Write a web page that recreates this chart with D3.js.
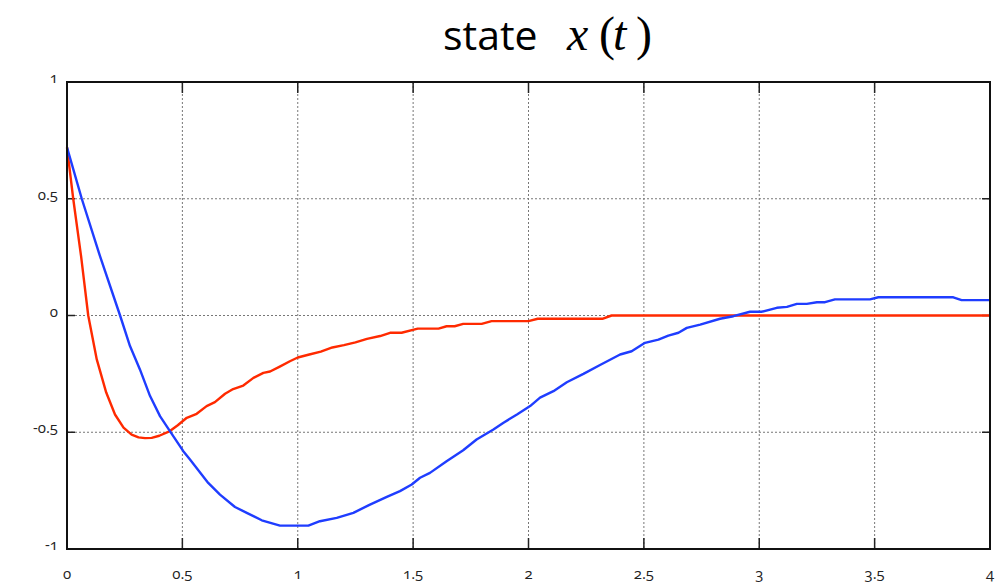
<!DOCTYPE html>
<html>
<head>
<meta charset="utf-8">
<script src="https://cdn.jsdelivr.net/npm/d3@7"></script>
<style>
  html, body { margin: 0; padding: 0; background: #fff; }
  svg { display: block; }
  .tick-label { font-family: "Open Sans", "Noto Sans", sans-serif; font-size: 15px; fill: #222;
                font-variant-numeric: oldstyle-nums; font-feature-settings: "onum"; }
  .title-sans { font-family: "Open Sans", "Noto Sans", sans-serif; font-size: 41px; }
  .title-math { font-family: "Liberation Serif", "DejaVu Serif", serif; font-size: 48px; }
</style>
</head>
<body>
<svg id="chart" width="1006" height="585"></svg>
<script>
// Time samples and state trajectories
const redT = [0, 0.027, 0.061, 0.092, 0.129, 0.17, 0.208, 0.245, 0.28, 0.31, 0.338, 0.367, 0.40, 0.446, 0.48, 0.519, 0.562, 0.605, 0.641, 0.685, 0.72, 0.764, 0.808, 0.851, 0.88, 0.92, 0.966, 1.0, 1.05, 1.1, 1.15, 1.2, 1.25, 1.3, 1.357, 1.40, 1.45, 1.52, 1.61, 1.645, 1.68, 1.717, 1.797, 1.84, 2.0, 2.04, 2.32, 2.36, 4.0];
const redX = [0.72, 0.5, 0.254, 0.0, -0.188, -0.33, -0.424, -0.48, -0.51, -0.522, -0.525, -0.524, -0.515, -0.495, -0.47, -0.438, -0.421, -0.388, -0.371, -0.335, -0.315, -0.30, -0.267, -0.246, -0.24, -0.22, -0.196, -0.18, -0.167, -0.155, -0.137, -0.127, -0.115, -0.1, -0.088, -0.074, -0.074, -0.056, -0.056, -0.046, -0.046, -0.036, -0.036, -0.024, -0.024, -0.014, -0.014, 0.0, 0.0];

const blueT = [0, 0.064, 0.143, 0.23, 0.273, 0.316, 0.36, 0.403, 0.446, 0.504, 0.533, 0.612, 0.663, 0.728, 0.779, 0.844, 0.923, 1.046, 1.096, 1.169, 1.241, 1.313, 1.386, 1.443, 1.494, 1.53, 1.573, 1.645, 1.717, 1.775, 1.848, 1.89, 1.95, 2.007, 2.05, 2.108, 2.166, 2.238, 2.31, 2.397, 2.447, 2.505, 2.563, 2.606, 2.65, 2.686, 2.744, 2.83, 2.888, 2.96, 3.01, 3.076, 3.12, 3.163, 3.206, 3.25, 3.285, 3.328, 3.48, 3.516, 3.841, 3.877, 4.0];
const blueX = [0.72, 0.5, 0.254, 0.0, -0.131, -0.231, -0.345, -0.431, -0.495, -0.581, -0.617, -0.717, -0.767, -0.82, -0.845, -0.877, -0.90, -0.90, -0.881, -0.867, -0.845, -0.81, -0.777, -0.752, -0.724, -0.695, -0.674, -0.624, -0.577, -0.531, -0.488, -0.46, -0.424, -0.388, -0.352, -0.324, -0.286, -0.25, -0.212, -0.167, -0.153, -0.117, -0.103, -0.086, -0.074, -0.053, -0.039, -0.014, -0.003, 0.016, 0.016, 0.033, 0.037, 0.05, 0.05, 0.057, 0.057, 0.069, 0.069, 0.078, 0.078, 0.066, 0.066];

const xTicks = [0, 0.5, 1, 1.5, 2, 2.5, 3, 3.5, 4];
const yTicks = [-1, -0.5, 0, 0.5, 1];

const svg = d3.select("#chart");
const plotL = 67, plotR = 990, plotT = 82, plotB = 549;

const x = d3.scaleLinear().domain([0, 4]).range([plotL, plotR]);
const y = d3.scaleLinear().domain([-1, 1]).range([plotB, plotT]);

// Dashed grid
const grid = svg.append("g");
grid.selectAll("line.gx").data(xTicks.slice(1, -1)).join("line")
  .attr("x1", d => x(d)).attr("x2", d => x(d))
  .attr("y1", plotT).attr("y2", plotB)
  .attr("stroke", "#777").attr("stroke-width", 1).attr("stroke-dasharray", "2,2");
grid.selectAll("line.gy").data(yTicks.slice(1, -1)).join("line")
  .attr("x1", plotL).attr("x2", plotR)
  .attr("y1", d => y(d)).attr("y2", d => y(d))
  .attr("stroke", "#777").attr("stroke-width", 1).attr("stroke-dasharray", "2,2");

// Inward ticks on all four sides
const tk = svg.append("g").attr("stroke", "#222").attr("stroke-width", 1.5);
xTicks.slice(1, -1).forEach(d => {
  tk.append("line").attr("x1", x(d)).attr("x2", x(d)).attr("y1", plotB).attr("y2", plotB - 11);
  tk.append("line").attr("x1", x(d)).attr("x2", x(d)).attr("y1", plotT).attr("y2", plotT + 11);
});
yTicks.slice(1, -1).forEach(d => {
  tk.append("line").attr("x1", plotL).attr("x2", plotL + 8).attr("y1", y(d)).attr("y2", y(d));
  tk.append("line").attr("x1", plotR).attr("x2", plotR - 8).attr("y1", y(d)).attr("y2", y(d));
});

// Trajectories
const line = d3.line().x(d => x(d[0])).y(d => y(d[1]));
svg.append("path").datum(d3.zip(redT, redX)).attr("d", line)
  .attr("fill", "none").attr("stroke", "#ff2a00").attr("stroke-width", 2.4).attr("stroke-linejoin", "round");
svg.append("path").datum(d3.zip(blueT, blueX)).attr("d", line)
  .attr("fill", "none").attr("stroke", "#1f3dff").attr("stroke-width", 2.4).attr("stroke-linejoin", "round");

// Frame
svg.append("rect").attr("x", plotL).attr("y", plotT).attr("width", plotR - plotL).attr("height", plotB - plotT)
  .attr("fill", "none").attr("stroke", "#111").attr("stroke-width", 2);

// Tick labels (plain hyphen for negatives)
svg.selectAll("text.xl").data(xTicks).join("text")
  .attr("class", "tick-label")
  .attr("x", d => x(d)).attr("y", 579)
  .attr("text-anchor", "middle")
  .text(d => String(d));
svg.selectAll("text.yl").data(yTicks).join("text")
  .attr("class", "tick-label")
  .attr("x", 58).attr("y", d => y(d) + 1)
  .attr("text-anchor", "end")
  .text(d => String(d));

// Title: "state" in sans, x(t) set as math
const title = svg.append("text").attr("y", 50).attr("fill", "#000");
title.append("tspan").attr("class", "title-sans").attr("x", 443).text("state");
title.append("tspan").attr("class", "title-math").attr("x", 567).attr("font-style", "italic").text("x");
title.append("tspan").attr("class", "title-math").attr("x", 599).text("(");
title.append("tspan").attr("class", "title-math").attr("x", 613).attr("font-style", "italic").text("t");
title.append("tspan").attr("class", "title-math").attr("x", 636).text(")");
</script>
</body>
</html>
